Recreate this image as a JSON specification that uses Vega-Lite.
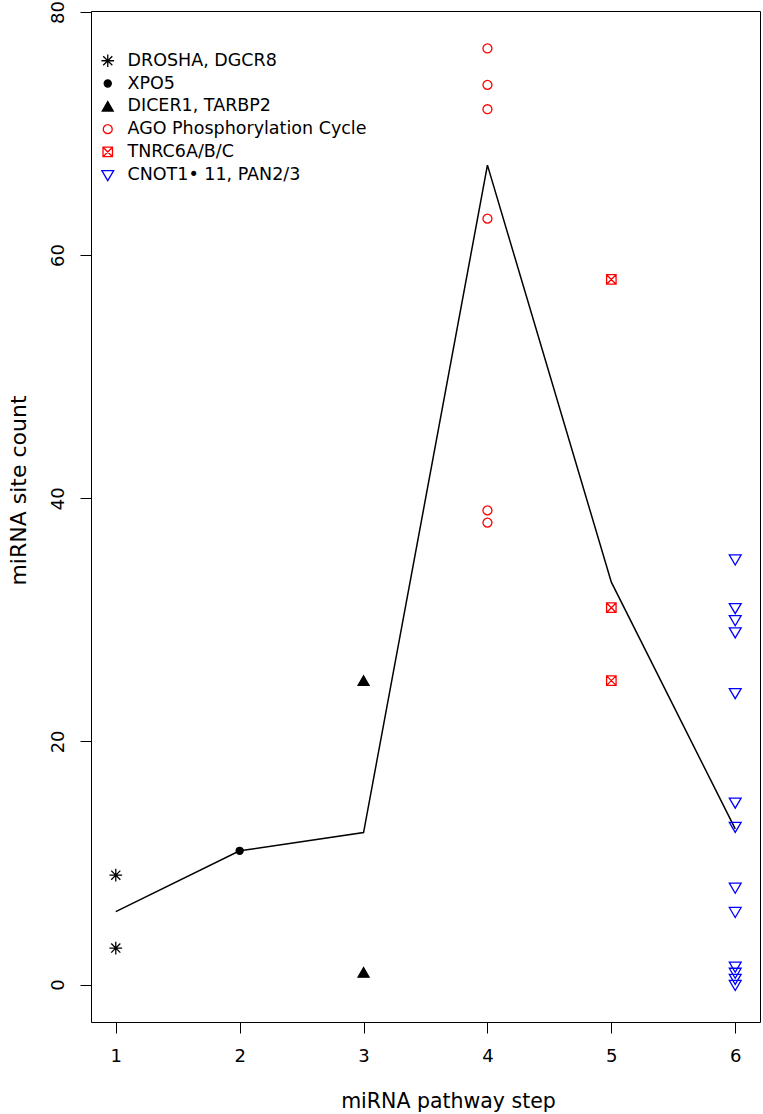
{
  "$schema": "https://vega.github.io/schema/vega-lite/v6.json",
  "width": 669,
  "height": 1011,
  "autosize": {"type": "none"},
  "padding": {"left": 91, "top": 11, "right": 3, "bottom": 92},
  "background": "white",
  "config": {
    "view": {"stroke": "black", "strokeWidth": 1},
    "font": "DejaVu Sans",
    "axis": {
      "grid": false,
      "domain": false,
      "tickColor": "black",
      "tickWidth": 1,
      "tickSize": 11,
      "labelColor": "black",
      "labelFontSize": 18,
      "labelFont": "DejaVu Sans",
      "titleColor": "black",
      "titleFont": "DejaVu Sans",
      "titleFontWeight": "normal"
    }
  },
  "datasets": {
    "pts": [
      {"step": 1, "count": 9, "group": "DROSHA, DGCR8"},
      {"step": 1, "count": 3, "group": "DROSHA, DGCR8"},
      {"step": 2, "count": 11, "group": "XPO5"},
      {"step": 3, "count": 25, "group": "DICER1, TARBP2"},
      {"step": 3, "count": 1, "group": "DICER1, TARBP2"},
      {"step": 4, "count": 77, "group": "AGO Phosphorylation Cycle"},
      {"step": 4, "count": 74, "group": "AGO Phosphorylation Cycle"},
      {"step": 4, "count": 72, "group": "AGO Phosphorylation Cycle"},
      {"step": 4, "count": 63, "group": "AGO Phosphorylation Cycle"},
      {"step": 4, "count": 39, "group": "AGO Phosphorylation Cycle"},
      {"step": 4, "count": 38, "group": "AGO Phosphorylation Cycle"},
      {"step": 5, "count": 58, "group": "TNRC6A/B/C"},
      {"step": 5, "count": 31, "group": "TNRC6A/B/C"},
      {"step": 5, "count": 25, "group": "TNRC6A/B/C"},
      {"step": 6, "count": 35, "group": "CNOT1• 11, PAN2/3"},
      {"step": 6, "count": 31, "group": "CNOT1• 11, PAN2/3"},
      {"step": 6, "count": 30, "group": "CNOT1• 11, PAN2/3"},
      {"step": 6, "count": 29, "group": "CNOT1• 11, PAN2/3"},
      {"step": 6, "count": 24, "group": "CNOT1• 11, PAN2/3"},
      {"step": 6, "count": 15, "group": "CNOT1• 11, PAN2/3"},
      {"step": 6, "count": 13, "group": "CNOT1• 11, PAN2/3"},
      {"step": 6, "count": 8, "group": "CNOT1• 11, PAN2/3"},
      {"step": 6, "count": 6, "group": "CNOT1• 11, PAN2/3"},
      {"step": 6, "count": 1.5, "group": "CNOT1• 11, PAN2/3"},
      {"step": 6, "count": 1, "group": "CNOT1• 11, PAN2/3"},
      {"step": 6, "count": 0.5, "group": "CNOT1• 11, PAN2/3"},
      {"step": 6, "count": 0, "group": "CNOT1• 11, PAN2/3"}
    ],
    "trend": [
      {"step": 1, "count": 6},
      {"step": 2, "count": 11},
      {"step": 3, "count": 12.5},
      {"step": 4, "count": 67.4},
      {"step": 5, "count": 33.1},
      {"step": 6, "count": 12.8}
    ]
  },
  "layer": [
    {
      "data": {"name": "trend"},
      "mark": {"type": "line", "color": "black", "strokeWidth": 1.5},
      "encoding": {
        "x": {
          "field": "step", "type": "quantitative",
          "scale": {"domain": [0.8, 6.2], "nice": false, "zero": false},
          "axis": {"values": [1, 2, 3, 4, 5, 6], "format": "d", "labelPadding": 14, "title": "miRNA pathway step", "titleFontSize": 20.5, "titlePadding": 26, "titleX": 357, "titleAlign": "center"}
        },
        "y": {
          "field": "count", "type": "quantitative",
          "scale": {"domain": [-3.08, 80.08], "nice": false, "zero": false},
          "axis": {"values": [0, 20, 40, 60, 80], "labelAngle": 270, "labelAlign": "center", "labelBaseline": "alphabetic", "labelPadding": 17, "title": "miRNA site count", "titleFontSize": 22, "titlePadding": 19, "titleY": 479, "titleAlign": "center"}
        }
      }
    },
    {
      "data": {"name": "pts"},
      "mark": {"type": "point", "strokeWidth": 1.3, "opacity": 1, "fillOpacity": 1},
      "encoding": {
        "x": {"field": "step", "type": "quantitative"},
        "y": {"field": "count", "type": "quantitative"},
        "shape": {
          "field": "group", "type": "nominal",
          "scale": {
            "domain": ["DROSHA, DGCR8", "XPO5", "DICER1, TARBP2", "AGO Phosphorylation Cycle", "TNRC6A/B/C", "CNOT1• 11, PAN2/3"],
            "range": ["M-1,0H1M0,-1V1M-0.72,-0.72L0.72,0.72M-0.72,0.72L0.72,-0.72", "circle", "triangle-up", "circle", "M-1,-1H1V1H-1ZM-1,-1L1,1M-1,1L1,-1", "M-1,-0.7H1L0,1Z"]
          },
          "legend": {
            "title": null,
            "orient": "none",
            "legendX": 8,
            "legendY": 41,
            "padding": 0,
            "labelFontSize": 17.5,
            "labelFont": "DejaVu Sans",
            "labelOffset": 11,
            "labelLimit": 0,
            "rowPadding": 3.8,
            "symbolStrokeWidth": 1.3,
            "encode": {
              "labels": {
                "update": {
                  "fill": {"signal": "datum.value == 'AGO Phosphorylation Cycle' || datum.value == 'TNRC6A/B/C' ? '#FF0000' : (datum.value == 'CNOT1• 11, PAN2/3' ? '#0000FF' : '#000000')"}
                }
              }
            }
          }
        },
        "stroke": {
          "field": "group", "type": "nominal",
          "scale": {
            "domain": ["DROSHA, DGCR8", "XPO5", "DICER1, TARBP2", "AGO Phosphorylation Cycle", "TNRC6A/B/C", "CNOT1• 11, PAN2/3"],
            "range": ["#000000", "#000000", "#000000", "#FF0000", "#FF0000", "#0000FF"]
          }
        },
        "fill": {
          "field": "group", "type": "nominal",
          "scale": {
            "domain": ["DROSHA, DGCR8", "XPO5", "DICER1, TARBP2", "AGO Phosphorylation Cycle", "TNRC6A/B/C", "CNOT1• 11, PAN2/3"],
            "range": ["transparent", "#000000", "#000000", "transparent", "transparent", "transparent"]
          }
        },
        "size": {
          "field": "group", "type": "nominal",
          "scale": {
            "type": "ordinal",
            "domain": ["DROSHA, DGCR8", "XPO5", "DICER1, TARBP2", "AGO Phosphorylation Cycle", "TNRC6A/B/C", "CNOT1• 11, PAN2/3"],
            "range": [160, 50, 120, 80, 90, 140]
          }
        }
      }
    }
  ]
}
